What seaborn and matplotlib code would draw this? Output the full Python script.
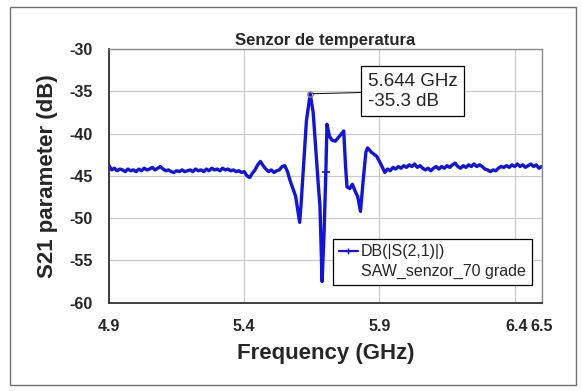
import matplotlib.pyplot as plt
import matplotlib.patches as mpatches
import matplotlib.transforms as mtransforms
from matplotlib.lines import Line2D
import pandas as pd
import seaborn as sns

# S21 trace of the SAW sensor
# flat part left of the resonance
FREQ_LEFT = [
    4.90, 4.91, 4.92, 4.93, 4.94, 4.95, 4.96, 4.97, 4.98, 4.99,
    5.00, 5.01, 5.02, 5.03, 5.04, 5.05, 5.06, 5.07, 5.08, 5.09,
    5.10, 5.11, 5.12, 5.13, 5.14, 5.15, 5.16, 5.17, 5.18, 5.19,
    5.20, 5.21, 5.22, 5.23, 5.24, 5.25, 5.26, 5.27, 5.28, 5.29,
    5.30, 5.31, 5.32, 5.33, 5.34, 5.35, 5.36, 5.37, 5.38, 5.39,
    5.40,
]
DB_LEFT = [
    -43.8, -44.3, -44.1, -44.4, -44.2, -44.3, -44.5, -44.2, -44.4, -44.3,
    -44.5, -44.2, -44.4, -44.1, -44.3, -44.2, -44.0, -44.3, -44.1, -43.9,
    -44.2, -44.4, -44.3, -44.5, -44.6, -44.4, -44.5, -44.3, -44.5, -44.4,
    -44.3, -44.5, -44.2, -44.4, -44.3, -44.5, -44.2, -44.4, -44.1, -44.3,
    -44.2, -44.4, -44.1, -44.3, -44.2, -44.4, -44.3, -44.5, -44.4, -44.6,
    -44.5,
]
# resonance region
FREQ_MID = [
    5.41, 5.42, 5.43, 5.44, 5.45, 5.46, 5.47, 5.48, 5.49, 5.50,
    5.51, 5.52, 5.53, 5.54, 5.55, 5.56, 5.57, 5.58, 5.59, 5.60,
    5.605, 5.61, 5.62, 5.63, 5.644, 5.655, 5.665, 5.675, 5.68, 5.688,
    5.695, 5.702, 5.706, 5.715, 5.725, 5.737, 5.75, 5.768, 5.775, 5.78,
    5.79, 5.80, 5.81, 5.82, 5.83, 5.84, 5.85, 5.856, 5.87, 5.89,
    5.905,
]
DB_MID = [
    -45.0, -45.2, -44.7, -44.3, -43.7, -43.3, -43.8, -44.2, -44.5, -44.3,
    -44.6, -44.4, -44.3, -43.9, -43.8, -44.5, -45.6, -46.5, -47.4, -49.5,
    -50.5, -48.5, -43.5, -38.5, -35.3, -37.5, -42.0, -46.5, -48.5, -57.5,
    -52.0, -44.5, -38.9, -40.3, -40.8, -40.9, -40.4, -39.7, -44.0, -46.3,
    -46.5, -46.0, -46.8, -47.5, -49.2, -45.5, -42.2, -41.7, -42.2, -42.7,
    -43.6,
]
# flat part right of the resonance
FREQ_RIGHT = [
    5.92, 5.93, 5.94, 5.95, 5.96, 5.97, 5.98, 5.99, 6.00, 6.01,
    6.02, 6.03, 6.04, 6.05, 6.06, 6.07, 6.08, 6.09, 6.10, 6.11,
    6.12, 6.13, 6.14, 6.15, 6.16, 6.17, 6.18, 6.19, 6.20, 6.21,
    6.22, 6.23, 6.24, 6.25, 6.26, 6.27, 6.28, 6.29, 6.30, 6.31,
    6.32, 6.33, 6.34, 6.35, 6.36, 6.37, 6.38, 6.39, 6.40, 6.41,
    6.42, 6.43, 6.44, 6.45, 6.46, 6.47, 6.48, 6.49, 6.50,
]
DB_RIGHT = [
    -44.6, -44.2, -44.4, -44.0, -44.2, -43.9, -44.1, -43.8, -44.0, -43.7,
    -43.9, -43.6, -44.0, -43.8, -44.1, -44.3, -44.1, -44.4, -44.1, -43.9,
    -44.2, -43.9, -44.1, -43.8, -44.0, -43.7, -43.5, -43.9, -44.1, -43.8,
    -44.0, -43.7, -43.9, -43.6, -43.9, -43.7, -43.9, -44.2, -44.3, -44.5,
    -44.3, -44.4, -44.1, -43.9, -44.0, -43.8, -44.0, -43.7, -43.9, -43.6,
    -43.9, -43.7, -44.0, -43.8, -43.6, -43.9, -43.7, -44.1, -43.9,
]

X_TICKS = [4.9, 5.4, 5.9, 6.4, 6.5]
X_TICK_LABELS = ["4.9", "5.4", "5.9", "6.4", "6.5"]
Y_TICKS = [-60, -55, -50, -45, -40, -35, -30]

MARKER_FREQ = 5.702
PEAK_FREQ = 5.644
PEAK_DB = -35.3

LINE_COLOR = "#0f14e0"


def main():
    sns.set_style("whitegrid")
    plt.rcParams["font.family"] = ["Liberation Sans", "DejaVu Sans"]
    plt.rcParams["axes.unicode_minus"] = False

    freq = FREQ_LEFT + FREQ_MID + FREQ_RIGHT
    s21 = DB_LEFT + DB_MID + DB_RIGHT
    df = pd.DataFrame({"freq": freq, "s21": s21})

    fig = plt.figure(figsize=(5.82, 3.91), dpi=100)
    ax = fig.add_axes([0.1873, 0.2258, 0.7434, 0.649])

    # outer chart border
    fig.patches.append(mpatches.Rectangle(
        (10 / 582, 1 - 385 / 391), 566 / 582, 378 / 391,
        transform=fig.transFigure, fill=False, edgecolor="#707070", linewidth=1.0,
    ))

    sns.lineplot(
        data=df, x="freq", y="s21", ax=ax, color=LINE_COLOR, linewidth=2.4,
        marker="+", markersize=6, markeredgewidth=1.2, markeredgecolor=LINE_COLOR,
        markevery=[freq.index(MARKER_FREQ)], legend=False,
    )

    # peak marker + annotation box
    ax.plot([PEAK_FREQ], [PEAK_DB], marker="o", markersize=4, markerfacecolor="none",
            markeredgecolor="#8a8a8a", linestyle="none")
    ax.annotate(
        f"{PEAK_FREQ:.3f} GHz\n{PEAK_DB:.1f} dB",
        xy=(PEAK_FREQ, PEAK_DB), xytext=(5.857, -35.0),
        textcoords="data", fontsize=13.5, ha="left", va="center", linespacing=1.2,
        bbox=dict(boxstyle="square,pad=0.35", facecolor="white", edgecolor="black", linewidth=0.9),
        arrowprops=dict(arrowstyle="-", color="black", linewidth=0.7, shrinkA=0, shrinkB=2),
    )

    ax.set_xlim(4.9, 6.5)
    ax.set_ylim(-60, -30)
    ax.set_xticks(X_TICKS)
    ax.set_xticklabels(X_TICK_LABELS)
    ax.set_yticks(Y_TICKS)
    ax.tick_params(axis="both", length=0, labelsize=11.5)
    ax.tick_params(axis="x", pad=12)
    ax.tick_params(axis="y", pad=12)
    for lbl in ax.get_xticklabels() + ax.get_yticklabels():
        lbl.set_fontweight("bold")
    # the 6.4 and 6.5 labels run into each other in the original
    lbl64 = ax.get_xticklabels()[3]
    lbl64.set_transform(lbl64.get_transform()
                        + mtransforms.ScaledTranslation(2 / 100, 0, fig.dpi_scale_trans))

    ax.grid(True, color="#c8c8c8", linewidth=0.8)
    for side in ["left", "bottom"]:
        ax.spines[side].set_color("#303030")
        ax.spines[side].set_linewidth(1.3)
    for side in ["top", "right"]:
        ax.spines[side].set_color("#8a8a8a")
        ax.spines[side].set_linewidth(1.0)

    ax.set_title("Senzor de temperatura", fontsize=12, fontweight="bold", pad=3)
    ax.set_xlabel("Frequency (GHz)", fontsize=16, fontweight="bold", labelpad=6)
    ax.set_ylabel("S21 parameter (dB)", fontsize=16, fontweight="bold", labelpad=8)

    handles = [
        Line2D([], [], color=LINE_COLOR, linewidth=1.6, marker="+", markersize=5),
        Line2D([], [], color="none"),
    ]
    leg = ax.legend(
        handles, ["DB(|S(2,1)|)", "SAW_senzor_70 grade"],
        loc="lower left", bbox_to_anchor=(0.518, 0.07), fontsize=11.5,
        frameon=True, fancybox=False, edgecolor="black", framealpha=1,
        handlelength=1.2, handletextpad=0.2, labelspacing=0.3, borderpad=0.35,
        borderaxespad=0,
    )
    leg.get_frame().set_linewidth(0.9)

    fig.savefig("out.png", dpi=100)
    plt.close(fig)


if __name__ == "__main__":
    main()
